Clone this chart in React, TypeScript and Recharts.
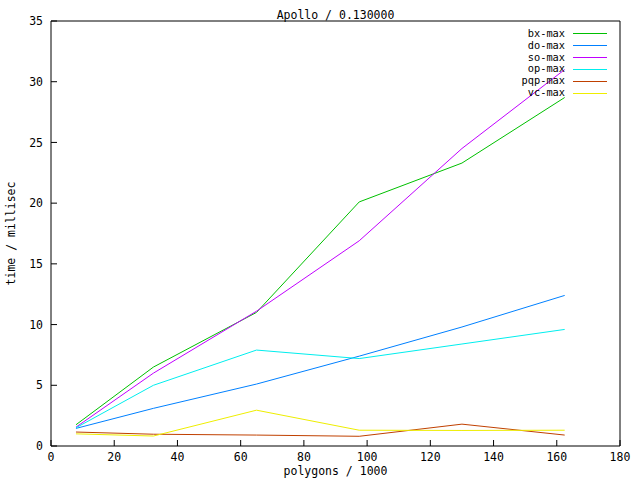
import { LineChart, Line, XAxis, YAxis } from 'recharts';

// polygons / 1000
const polygons = [7.9, 32.4, 65, 97.5, 130, 162.5];

// time / millisec, one list per method
const bxMax = [1.75, 6.5, 11.0, 20.1, 23.3, 28.7];
const doMax = [1.45, 3.1, 5.1, 7.4, 9.8, 12.4];
const soMax = [1.55, 6.0, 11.1, 16.9, 24.5, 31.0];
const opMax = [1.5, 5.0, 7.9, 7.2, 8.4, 9.6];
const pqpMax = [1.15, 0.97, 0.9, 0.8, 1.8, 0.9];
const vcMax = [1.0, 0.82, 2.95, 1.3, 1.28, 1.3];

const xTicks = [0, 20, 40, 60, 80, 100, 120, 140, 160, 180];
const yTicks = [0, 5, 10, 15, 20, 25, 30, 35];

const series = [
    { key: 'bx', name: 'bx-max', color: '#00c000', values: bxMax },
    { key: 'do', name: 'do-max', color: '#0080ff', values: doMax },
    { key: 'so', name: 'so-max', color: '#c000ff', values: soMax },
    { key: 'op', name: 'op-max', color: '#00eeee', values: opMax },
    { key: 'pqp', name: 'pqp-max', color: '#c04000', values: pqpMax },
    { key: 'vc', name: 'vc-max', color: '#eeee00', values: vcMax },
];

const data = polygons.map((x, i) => {
    const row: Record<string, number> = { x };
    series.forEach((s) => {
        row[s.key] = s.values[i];
    });
    return row;
});

const font = 'DejaVu Sans Mono, monospace';
const tickStyle = { fontSize: 11.5, fontFamily: font, fill: '#000' };

export default function App() {
    return (
        <div style={{ position: 'absolute', left: 0, top: 0, width: 640, height: 480, background: '#fff' }}>
            <LineChart width={640} height={480} data={data} margin={{ top: 20, right: 19, bottom: 0, left: 0 }}>
                <XAxis
                    dataKey="x"
                    type="number"
                    domain={[0, 180]}
                    ticks={xTicks}
                    interval={0}
                    height={34}
                    tickSize={-6}
                    tickMargin={13}
                    tick={tickStyle}
                    stroke="#000"
                    label={{ value: 'polygons / 1000', position: 'insideBottom', offset: 5, style: { ...tickStyle } }}
                />
                {/* mirror axis on top, carries the title */}
                <XAxis
                    xAxisId="top"
                    dataKey="x"
                    orientation="top"
                    type="number"
                    domain={[0, 180]}
                    ticks={xTicks}
                    interval={0}
                    height={1}
                    tickSize={-6}
                    tick={false}
                    stroke="#000"
                    label={{ value: 'Apollo / 0.130000', position: 'top', offset: 1, style: { ...tickStyle } }}
                />
                <YAxis
                    type="number"
                    domain={[0, 35]}
                    ticks={yTicks}
                    interval={0}
                    width={51}
                    tickSize={-6}
                    tickMargin={14}
                    tick={tickStyle}
                    stroke="#000"
                    label={{
                        value: 'time / millisec',
                        angle: -90,
                        position: 'insideLeft',
                        offset: 11,
                        style: { ...tickStyle, textAnchor: 'middle' },
                    }}
                />
                <YAxis
                    yAxisId="right"
                    orientation="right"
                    type="number"
                    domain={[0, 35]}
                    ticks={yTicks}
                    interval={0}
                    width={1}
                    tickSize={-6}
                    tick={false}
                    stroke="#000"
                />
                {series.map((s) => (
                    <Line
                        key={s.key}
                        dataKey={s.key}
                        name={s.name}
                        type="linear"
                        stroke={s.color}
                        strokeWidth={1}
                        dot={false}
                        activeDot={false}
                        isAnimationActive={false}
                    />
                ))}
                {/* invisible copy so the mirror axes have something bound to them */}
                <Line
                    xAxisId="top"
                    yAxisId="right"
                    dataKey="bx"
                    stroke="none"
                    dot={false}
                    activeDot={false}
                    legendType="none"
                    isAnimationActive={false}
                />
            </LineChart>

            {/* legend, top right like gnuplot */}
            <svg width={640} height={110} style={{ position: 'absolute', left: 0, top: 0 }}>
                {series.map((s, i) => (
                    <g key={s.key}>
                        <text
                            x={565}
                            y={33 + i * 11.9}
                            dy="0.36em"
                            textAnchor="end"
                            fontFamily={font}
                            fontSize={10.3}
                            fill="#000"
                        >
                            {s.name}
                        </text>
                        <line
                            x1={573}
                            x2={607}
                            y1={33.5 + Math.round(i * 11.9)}
                            y2={33.5 + Math.round(i * 11.9)}
                            stroke={s.color}
                            strokeWidth={1}
                        />
                    </g>
                ))}
            </svg>
        </div>
    );
}
